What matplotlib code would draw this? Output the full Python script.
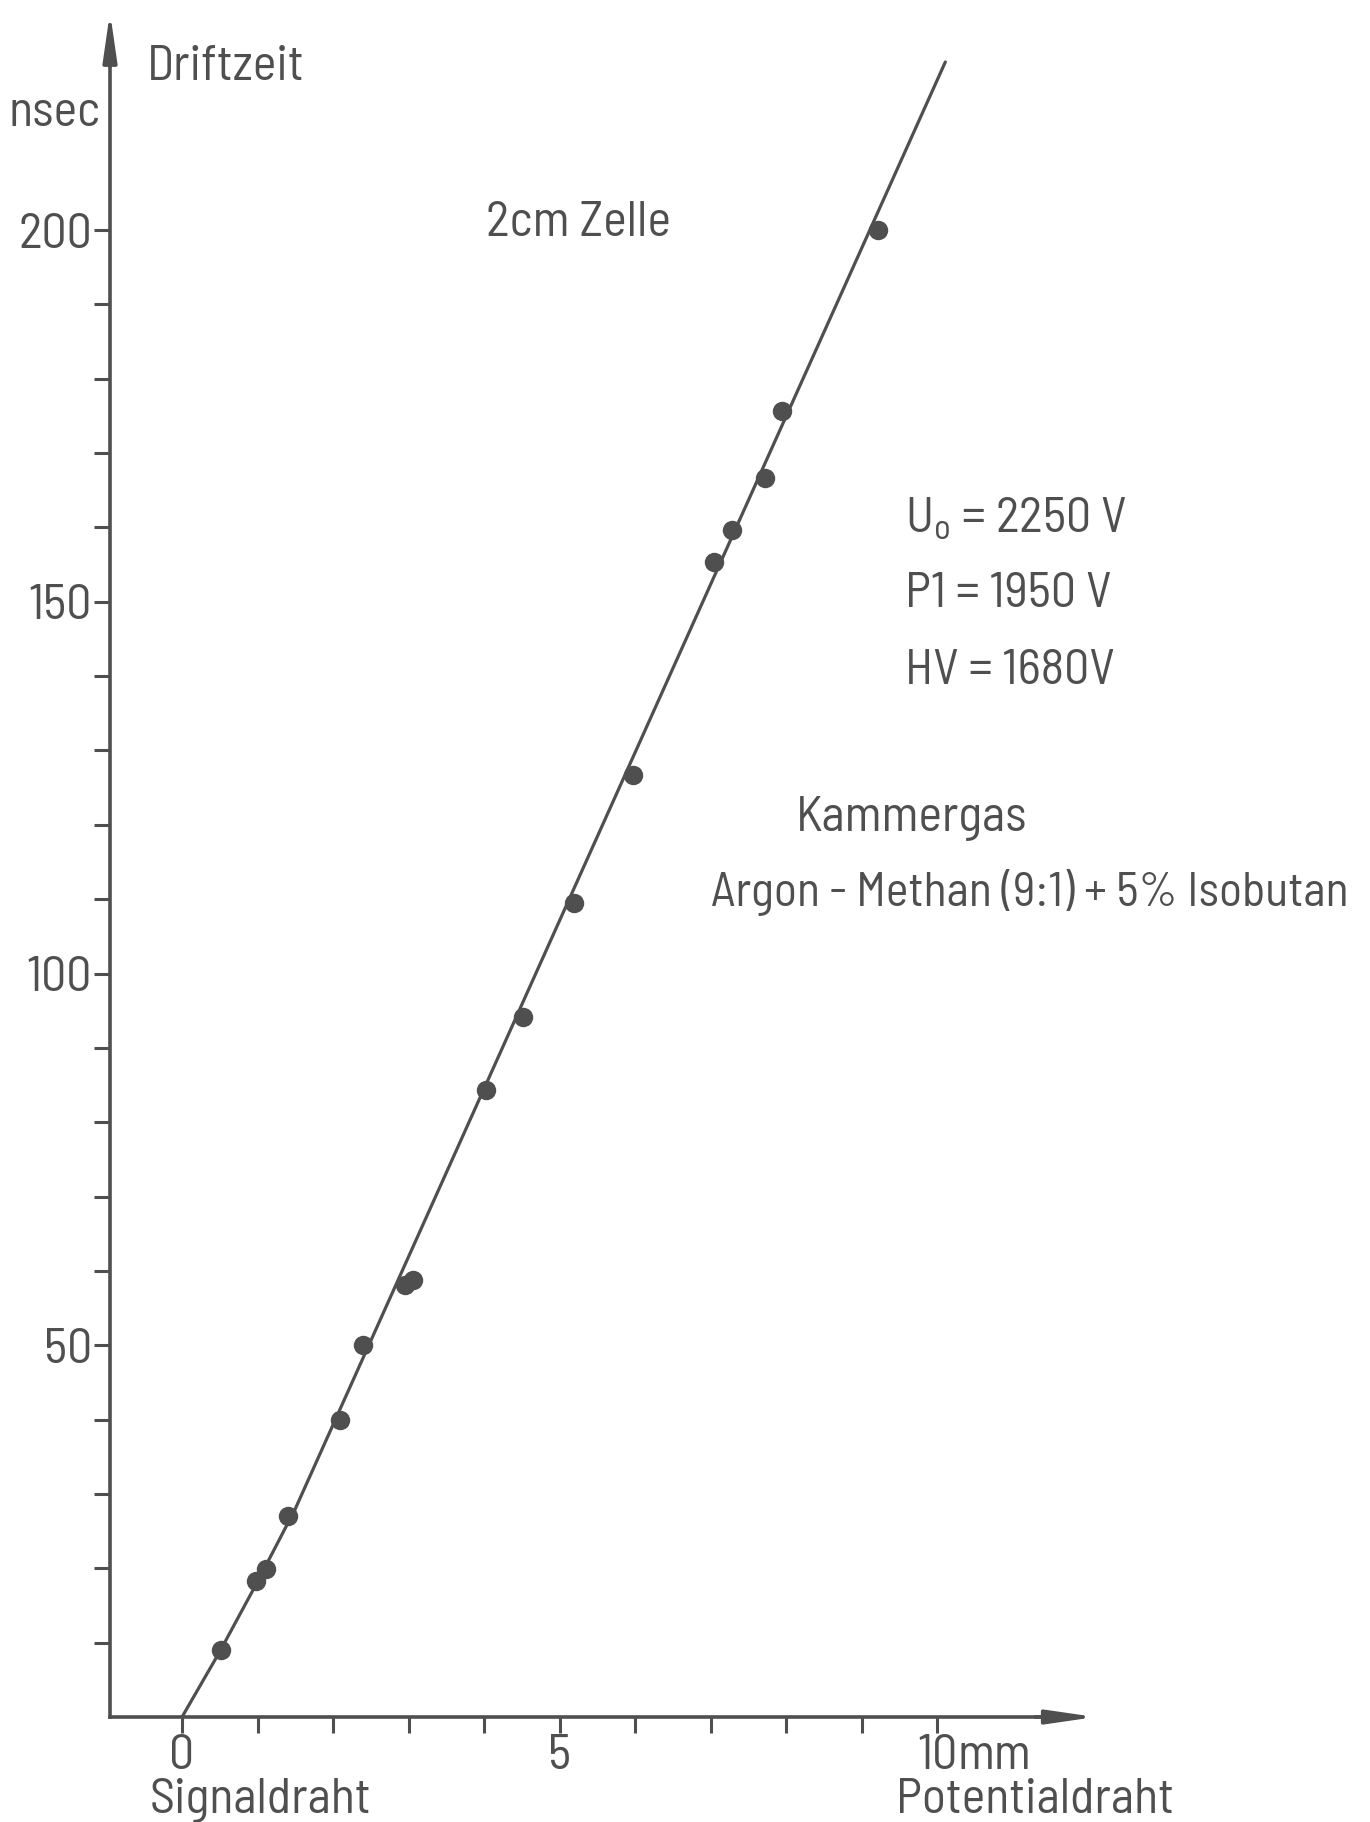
"""
Driftzeit vs. Abstand vom Signaldraht, 2 cm Zelle.
Nachbau einer alten technischen Zeichnung.
"""
import matplotlib
matplotlib.use("Agg")
import matplotlib.pyplot as plt

plt.rcParams["font.family"] = ["Barlow Semi Condensed", "DejaVu Sans"]
plt.rcParams["font.size"] = 36
plt.rcParams["mathtext.default"] = "regular"

INK = "#4f4f4f"

# measured points (mm, nsec)
drift_x = [0.52, 0.98, 1.11, 1.40, 2.09, 2.40, 2.95, 3.06, 4.03, 4.52,
           5.19, 5.97, 7.05, 7.28, 7.72, 7.95, 9.22]
drift_t = [9.0, 18.3, 19.9, 27.0, 39.9, 50.0, 58.1, 58.8, 84.3, 94.2,
           109.5, 126.7, 155.4, 159.6, 166.7, 175.6, 200.0]

# hand drawn curve through the points
fit_x = [0.0, 0.5, 1.0, 1.5, 2.0, 10.11]
fit_t = [0.0, 8.8, 18.2, 28.0, 39.3, 222.6]

y_major = [50, 100, 150, 200]
y_minor = list(range(10, 200, 10))
x_ticks = list(range(0, 11))
x_labels = ["0", "", "", "", "", "5", "", "", "", "", "10"]

fig = plt.figure(figsize=(13.7, 18.22), dpi=100)
ax = fig.add_axes([0, 0, 1, 1])
ax.set_xlim(-2.411, 15.735)
ax.set_ylim(-14.12, 230.94)

x_axis_pos = -0.954
ax.spines["top"].set_visible(False)
ax.spines["right"].set_visible(False)
for s in ("left", "bottom"):
    ax.spines[s].set_linewidth(2.6)
    ax.spines[s].set_color(INK)
ax.spines["left"].set_position(("data", x_axis_pos))
ax.spines["left"].set_bounds(0, 226)
ax.spines["bottom"].set_position(("data", 0))
ax.spines["bottom"].set_bounds(x_axis_pos, 11.6)

arrow = dict(arrowstyle="-|>,head_length=2.9,head_width=0.42",
             color=INK, lw=2.6, shrinkA=0, shrinkB=0, mutation_scale=10)
ax.annotate("", xy=(x_axis_pos, 229.3), xytext=(x_axis_pos, 222), arrowprops=arrow)
ax.annotate("", xy=(12.1, 0), xytext=(11.3, 0), arrowprops=arrow)

ax.set_yticks(y_major)
ax.set_yticks(y_minor, minor=True)
ax.set_xticks(x_ticks)
ax.set_xticklabels(x_labels)
ax.tick_params(axis="both", which="both", direction="out", length=11.5,
               width=2.2, color=INK, labelcolor=INK, labelsize=36)
ax.tick_params(axis="y", which="both", pad=1.5)
ax.tick_params(axis="x", which="both", pad=1)

ax.plot(fit_x, fit_t, color=INK, lw=2.3, solid_capstyle="round")
ax.plot(drift_x, drift_t, "o", color=INK, markersize=14, markeredgewidth=0)

txt = dict(color=INK, fontsize=36, va="baseline", ha="left")
ax.text(-0.464, 220.2, "Driftzeit", **txt)
ax.text(-2.30, 214.0, "nsec", **txt)
ax.text(4.03, 199.2, "2cm Zelle", **txt)
ax.text(9.576, 159.4, r"U$_{o}$ = 2250 V", **txt)
ax.text(9.576, 149.3, "P1 = 1950 V", **txt)
ax.text(9.576, 138.9, "HV = 1680V", **txt)
ax.text(8.13, 119.2, "Kammergas", **txt)
ax.text(7.007, 109.1, "Argon - Methan (9:1) + 5% Isobutan",
        **{**txt, "fontsize": 34.5})
ax.text(-0.424, -12.9, "Signaldraht", **txt)
ax.text(9.457, -12.9, "Potentialdraht", **txt)

# unit directly after the "10" tick label
fig.canvas.draw()
label10 = ax.get_xticklabels()[-1]
ax.annotate("mm", xy=(1, 0), xycoords=label10, ha="left", va="bottom",
            color=INK, fontsize=36)

fig.savefig("out.png", dpi=100, facecolor="white")
plt.close(fig)
